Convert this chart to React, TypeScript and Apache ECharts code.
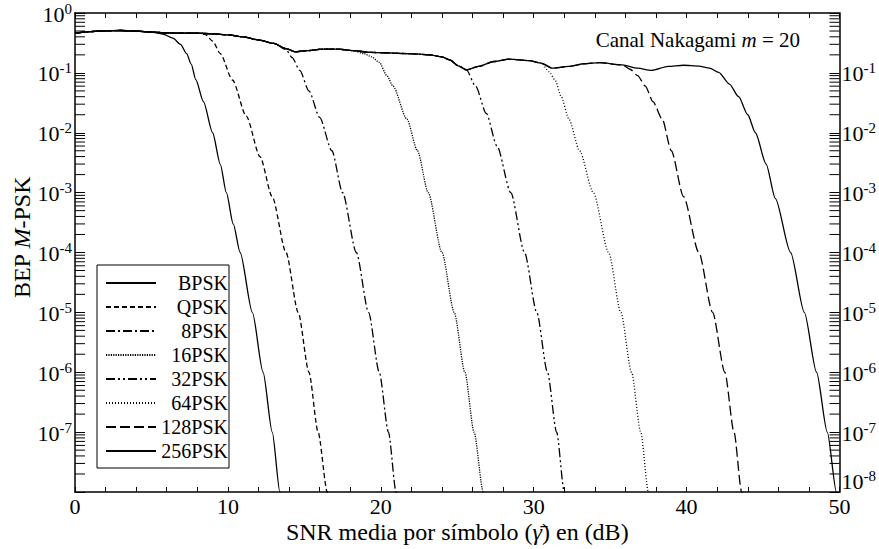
import React, { useEffect, useRef } from 'react';
import * as echarts from 'echarts';

const FONT = 'Liberation Serif';

// Series names (legend order)
const seriesNames = ['BPSK', 'QPSK', '8PSK', '16PSK', '32PSK', '64PSK', '128PSK', '256PSK'];

// Common upper envelope shared by all curves before they fall off (SNR dB, BEP)
const envelope: [number, number][] = [
  [0, 0.46], [1, 0.49], [2, 0.505], [3, 0.51], [4, 0.5], [5, 0.48], [6, 0.465], [7, 0.46],
  [8, 0.46], [9, 0.45], [10, 0.43], [11, 0.4], [12, 0.355], [13, 0.31], [13.8, 0.255],
  [14.4, 0.225], [15.2, 0.235], [16.2, 0.25], [17.2, 0.25], [18.2, 0.235], [19.3, 0.22],
  [20.5, 0.215], [21.8, 0.21], [23.2, 0.2], [24.0, 0.185], [24.5, 0.165], [25.1, 0.13],
  [25.6, 0.112], [26.4, 0.128], [27.4, 0.155], [28.4, 0.17], [29.7, 0.16], [30.5, 0.145],
  [31.2, 0.12], [32.3, 0.128], [33.3, 0.142], [34.3, 0.148], [35.8, 0.136], [36.8, 0.12],
  [37.7, 0.11], [38.8, 0.128], [39.8, 0.134], [40.8, 0.13], [41.5, 0.12],
];

// Last envelope SNR each curve follows before departing
const departSnr = [5, 8, 13, 18.2, 25.6, 30.5, 35.8, 41.5];

// Falling part of each curve (SNR dB, BEP)
const tailBPSK: [number, number][] = [
  [5.8, 0.44], [6.4, 0.38], [6.9, 0.3], [7.3, 0.21], [7.6, 0.14], [7.9, 0.077], [8.4, 0.033],
  [9.0, 0.01], [9.5, 3e-3], [9.9, 1e-3], [10.35, 3e-4], [10.8, 1e-4], [11.6, 1e-5],
  [12.3, 1e-6], [12.9, 1e-7], [13.4, 1e-8], [13.6, 5e-9],
];
const tailQPSK: [number, number][] = [
  [8.5, 0.44], [9.0, 0.34], [9.5, 0.21], [10.3, 0.076], [11.2, 0.019], [12.1, 4e-3],
  [12.9, 8.5e-4], [13.8, 1e-4], [14.6, 1e-5], [15.3, 1e-6], [15.9, 1e-7], [16.5, 1e-8], [16.7, 5e-9],
];
const tail8PSK: [number, number][] = [
  [13.8, 0.245], [14.2, 0.18], [14.7, 0.11], [15.3, 0.05], [16.0, 0.018], [16.8, 5e-3],
  [17.5, 1e-3], [18.4, 1e-4], [19.2, 1e-5], [19.9, 1e-6], [20.5, 1e-7], [21.0, 1e-8], [21.2, 5e-9],
];
const tail16PSK: [number, number][] = [
  [18.9, 0.21], [19.4, 0.185], [19.9, 0.15], [20.4, 0.09], [20.8, 0.06], [21.7, 0.017],
  [22.4, 5e-3], [23.1, 1e-3], [24.0, 1e-4], [24.8, 1e-5], [25.5, 1e-6], [26.1, 1e-7],
  [26.7, 1e-8], [26.9, 5e-9],
];
const tail32PSK: [number, number][] = [
  [26.2, 0.06], [26.9, 0.021], [27.6, 6e-3], [28.5, 1e-3], [29.4, 1e-4], [30.2, 1e-5],
  [30.9, 1e-6], [31.5, 1e-7], [32.0, 1e-8], [32.2, 5e-9],
];
const tail64PSK: [number, number][] = [
  [31.0, 0.105], [31.4, 0.076], [31.8, 0.04], [32.3, 0.017], [33.0, 5e-3], [33.9, 1e-3],
  [34.9, 1e-4], [35.7, 1e-5], [36.4, 1e-6], [37.0, 1e-7], [37.5, 1e-8], [37.7, 5e-9],
];
const tail128PSK: [number, number][] = [
  [36.3, 0.115], [36.8, 0.09], [37.3, 0.06], [37.8, 0.033], [38.4, 0.017], [39.0, 5e-3],
  [39.8, 8.6e-4], [40.8, 1e-4], [41.7, 1e-5], [42.5, 1e-6], [43.1, 1e-7], [43.6, 1e-8], [43.8, 5e-9],
];
const tail256PSK: [number, number][] = [
  [42.1, 0.102], [42.8, 0.065], [43.4, 0.04], [44.0, 0.02], [44.5, 0.01], [45.2, 3e-3],
  [45.8, 8e-4], [46.8, 1e-4], [47.7, 1e-5], [48.5, 1e-6], [49.2, 1e-7], [49.8, 1e-8], [50, 6e-9],
];
const tails = [tailBPSK, tailQPSK, tail8PSK, tail16PSK, tail32PSK, tail64PSK, tail128PSK, tail256PSK];

// Line dash styles
const lineTypes: any[] = [
  'solid', [5, 3], [9, 3, 2, 3], [1.2, 1.2], [9, 3, 2, 3, 2, 3], [1, 2], [10, 4], 'solid',
];

// Axis ranges / ticks
const xMin = 0;
const xMax = 50;
const xInterval = 10;
const yMin = 1e-8;
const yMax = 1;

// Log minor tick positions (2..9 x 10^k)
const minorTickValues: number[] = [];
for (let e = -8; e < 0; e++) {
  for (let k = 2; k <= 9; k++) minorTickValues.push(k * Math.pow(10, e));
}

const expLabel = (v: number) => {
  const e = Math.round(Math.log10(v));
  return `{b|10}{s|${e}}`;
};
const labelRich = {
  b: { fontFamily: FONT, fontSize: 22, lineHeight: 24, verticalAlign: 'bottom', color: '#000' },
  s: { fontFamily: FONT, fontSize: 15, lineHeight: 15, verticalAlign: 'top', color: '#000' },
};

const axisLineStyle = { color: '#000', width: 1.5 };

export default function App() {
  const ref = useRef<HTMLDivElement>(null);

  useEffect(() => {
    if (!ref.current) return;
    const chart = echarts.init(ref.current, null, { renderer: 'svg' });

    const lineSeries = seriesNames.map((name, i) => ({
      type: 'line',
      name,
      xAxisIndex: 0,
      yAxisIndex: 0,
      data: [...envelope.filter((p) => p[0] <= departSnr[i]), ...tails[i]],
      showSymbol: false,
      symbol: 'none',
      smooth: 0.25,
      smoothMonotone: 'x',
      lineStyle: { color: '#000', width: 1.3, type: lineTypes[i] },
      itemStyle: { color: '#000' },
      emphasis: { disabled: true },
      z: 3,
    }));

    const minorSeries = {
      type: 'custom',
      name: 'minorTicks',
      xAxisIndex: 0,
      yAxisIndex: 0,
      silent: true,
      clip: false,
      data: minorTickValues.map((v) => [xMin, v]),
      encode: { x: 0, y: 1 },
      renderItem: (_params: any, api: any) => {
        const v = api.value(1);
        const pl = api.coord([xMin, v]);
        const pr = api.coord([xMax, v]);
        const st = { stroke: '#000', lineWidth: 1 };
        return {
          type: 'group',
          children: [
            { type: 'line', shape: { x1: pl[0], y1: pl[1], x2: pl[0] + 10, y2: pl[1] }, style: st },
            { type: 'line', shape: { x1: pr[0] - 10, y1: pr[1], x2: pr[0], y2: pr[1] }, style: st },
          ],
        };
      },
      z: 4,
    };

    const option: any = {
      animation: false,
      backgroundColor: '#fff',
      textStyle: { fontFamily: FONT },
      title: {
        text: 'Canal Nakagami {i|m} = 20',
        right: 79,
        top: 28,
        padding: 0,
        textStyle: {
          fontFamily: FONT,
          fontSize: 21,
          fontWeight: 'normal',
          color: '#000',
          lineHeight: 24,
          rich: {
            i: { fontFamily: FONT, fontSize: 21, fontStyle: 'italic', color: '#000', lineHeight: 24 },
          },
        },
      },
      legend: {
        data: seriesNames,
        orient: 'vertical',
        left: 97,
        top: 265,
        itemWidth: 50,
        itemHeight: 14,
        itemGap: 4,
        padding: [8, 1, 7, 8],
        borderColor: '#000',
        borderWidth: 1,
        backgroundColor: '#fff',
        selectedMode: false,
        itemStyle: { opacity: 0 },
        formatter: (name: string) => `{t|${name}}`,
        textStyle: {
          fontFamily: FONT,
          fontSize: 20,
          color: '#000',
          rich: {
            t: { fontFamily: FONT, fontSize: 20, color: '#000', width: 67, align: 'right', lineHeight: 20 },
          },
        },
      },
      grid: { left: 75, right: 38, top: 13, bottom: 57, containLabel: false },
      xAxis: [
        {
          type: 'value',
          position: 'bottom',
          min: xMin,
          max: xMax,
          interval: xInterval,
          axisLine: { onZero: false, lineStyle: axisLineStyle },
          axisTick: { inside: true, length: 5, lineStyle: { color: '#000', width: 1 } },
          minorTick: { show: true, splitNumber: 5, length: 5, lineStyle: { color: '#000', width: 1 } },
          splitLine: { show: false },
          axisLabel: { fontFamily: FONT, fontSize: 22, color: '#000', margin: 3 },
          name: 'SNR media por símbolo ({g|γ\u0304}) en (dB)',
          nameLocation: 'middle',
          nameGap: 28,
          nameMoveOverlap: false,
          nameTextStyle: {
            fontFamily: FONT,
            fontSize: 24,
            color: '#000',
            rich: { g: { fontFamily: FONT, fontSize: 24, fontStyle: 'italic', color: '#000' } },
          },
        },
        {
          type: 'value',
          position: 'top',
          min: xMin,
          max: xMax,
          interval: xInterval,
          axisLine: { onZero: false, lineStyle: axisLineStyle },
          axisTick: { inside: true, length: 5, lineStyle: { color: '#000', width: 1 } },
          minorTick: { show: true, splitNumber: 5, length: 5, lineStyle: { color: '#000', width: 1 } },
          splitLine: { show: false },
          axisLabel: { show: false },
        },
      ],
      yAxis: [
        {
          type: 'log',
          logBase: 10,
          position: 'left',
          min: yMin,
          max: yMax,
          splitNumber: 8,
          axisLine: { onZero: false, lineStyle: axisLineStyle },
          axisTick: { inside: true, length: 10, lineStyle: { color: '#000', width: 1 } },
          splitLine: { show: false },
          axisLabel: {
            margin: 3,
            formatter: (v: number) => (v < 1.5e-8 ? '' : expLabel(v)),
            rich: labelRich,
          },
          name: 'BEP {i|M}-PSK',
          nameLocation: 'middle',
          nameRotate: 90,
          nameGap: 41,
          nameMoveOverlap: false,
          nameTextStyle: {
            fontFamily: FONT,
            fontSize: 24,
            color: '#000',
            padding: [0, 0, 0, 30],
            rich: { i: { fontFamily: FONT, fontSize: 24, fontStyle: 'italic', color: '#000' } },
          },
        },
        {
          type: 'log',
          logBase: 10,
          position: 'right',
          min: yMin,
          max: yMax,
          splitNumber: 8,
          axisLine: { onZero: false, lineStyle: axisLineStyle },
          axisTick: { inside: true, length: 10, lineStyle: { color: '#000', width: 1 } },
          splitLine: { show: false },
          axisLabel: {
            margin: 2,
            verticalAlignMinLabel: 'bottom',
            formatter: (v: number) => (v > 0.5 ? '' : expLabel(v)),
            rich: labelRich,
          },
        },
      ],
      series: [...lineSeries, minorSeries],
    };

    chart.setOption(option);
    return () => chart.dispose();
  }, []);

  return (
    <div
      ref={ref}
      style={{ position: 'fixed', left: 0, top: 0, width: 879, height: 549, background: '#fff' }}
    />
  );
}
